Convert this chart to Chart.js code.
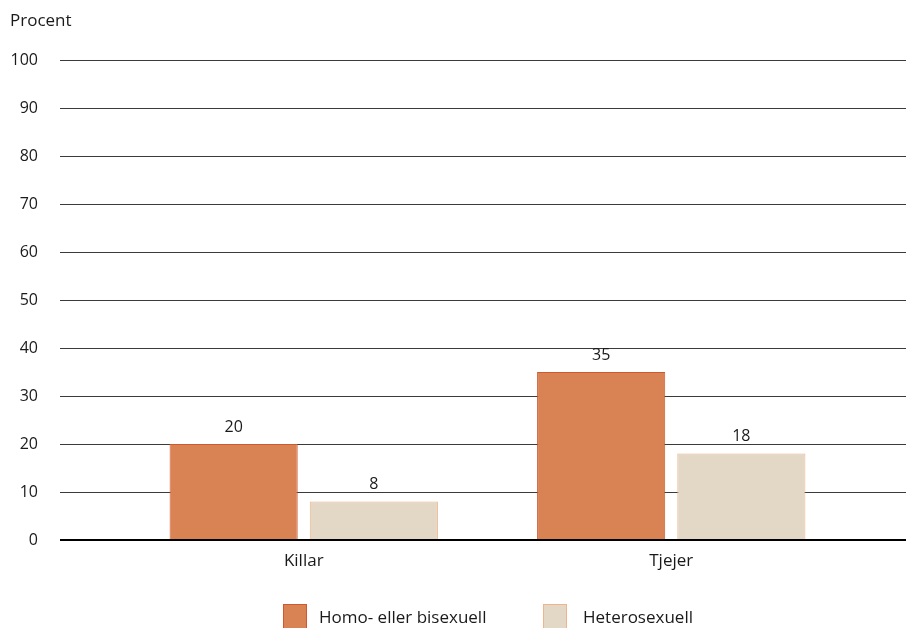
<!DOCTYPE html>
<html>
<head>
<meta charset="utf-8">
<script src="https://cdn.jsdelivr.net/npm/chart.js@4/dist/chart.umd.min.js"></script>
<style>
  html, body { margin: 0; padding: 0; background: #fff; }
  #wrap { width: 906px; height: 628px; position: relative; }
</style>
</head>
<body>
<div id="wrap"><canvas id="chart"></canvas></div>
<script>
const categories = ['Killar', 'Tjejer'];
const homoBi = [20, 35];
const hetero = [8, 18];
const seriesNames = ['Homo- eller bisexuell', 'Heterosexuell'];
const yTicks = [0, 10, 20, 30, 40, 50, 60, 70, 80, 90, 100];

const FONT = '"Open Sans", "Noto Sans", sans-serif';
const TEXT = '#1a1a1a';

// grid lines run wider than the bar area, plus value labels, caption and legend
const decorations = {
  id: 'decorations',
  beforeDatasetsDraw(chart) {
    const ctx = chart.ctx;
    const y = chart.scales.y;
    ctx.save();
    ctx.strokeStyle = '#3a3a3a';
    ctx.lineWidth = 1;
    y.ticks.forEach(t => {
      if (t.value === 0) return;
      const py = Math.round(y.getPixelForValue(t.value)) + 0.5;
      ctx.beginPath();
      ctx.moveTo(60, py);
      ctx.lineTo(906, py);
      ctx.stroke();
    });
    ctx.restore();
  },
  afterDatasetsDraw(chart) {
    const ctx = chart.ctx;
    const y = chart.scales.y;
    const py = Math.round(y.getPixelForValue(0));
    ctx.save();
    ctx.strokeStyle = '#000';
    ctx.lineWidth = 2;
    ctx.beginPath();
    ctx.moveTo(60, py);
    ctx.lineTo(906, py);
    ctx.stroke();

    // value labels above bars
    ctx.fillStyle = TEXT;
    ctx.font = '16px ' + FONT;
    ctx.textAlign = 'center';
    ctx.textBaseline = 'middle';
    chart.data.datasets.forEach((ds, i) => {
      chart.getDatasetMeta(i).data.forEach((bar, j) => {
        ctx.fillText(String(ds.data[j]), bar.x, bar.y - 17);
      });
    });

    // axis caption
    ctx.textAlign = 'left';
    ctx.font = '17px ' + FONT;
    ctx.fillText('Procent', 10, 21);

    // legend
    const legendX = [283, 543];
    const textGap = [36, 40];
    ctx.font = '17px ' + FONT;
    chart.data.datasets.forEach((ds, i) => {
      ctx.fillStyle = ds.backgroundColor;
      ctx.strokeStyle = ds.borderColor;
      ctx.lineWidth = 1;
      ctx.fillRect(legendX[i], 604, 24, 26);
      ctx.strokeRect(legendX[i] + 0.5, 604.5, 23, 26);
      ctx.fillStyle = TEXT;
      ctx.fillText(ds.label, legendX[i] + textGap[i], 618);
    });
    ctx.restore();
  }
};

new Chart(document.getElementById('chart'), {
  type: 'bar',
  data: {
    labels: categories,
    datasets: [
      {
        label: seriesNames[0],
        data: homoBi,
        backgroundColor: '#d98254',
        borderColor: '#d0582e',
        borderWidth: 1
      },
      {
        label: seriesNames[1],
        data: hetero,
        backgroundColor: '#e3d7c6',
        borderColor: '#efb48c',
        borderWidth: 1
      }
    ]
  },
  options: {
    responsive: true,
    maintainAspectRatio: false,
    animation: false,
    layout: { padding: { top: 60, right: 51, left: 0, bottom: 32 } },
    datasets: {
      bar: { categoryPercentage: 0.763, barPercentage: 0.914 }
    },
    scales: {
      x: {
        grid: { display: false, drawTicks: false },
        border: { display: false },
        ticks: { color: TEXT, font: { family: FONT, size: 17 }, padding: 11 },
        afterFit(scale) { scale.height = 56; }
      },
      y: {
        min: 0,
        max: 100,
        afterBuildTicks(scale) { scale.ticks = yTicks.map(v => ({ value: v })); },
        grid: { display: false, drawTicks: false },
        border: { display: false },
        ticks: { color: TEXT, font: { family: FONT, size: 16 }, padding: 82 },
        afterFit(scale) {
          // wide label gap shouldn't push the plot down
          scale.width = 120;
          scale.paddingTop = 10;
          scale.paddingBottom = 10;
        }
      }
    },
    plugins: {
      legend: { display: false },
      tooltip: { enabled: false }
    }
  },
  plugins: [decorations]
});
</script>
</body>
</html>
